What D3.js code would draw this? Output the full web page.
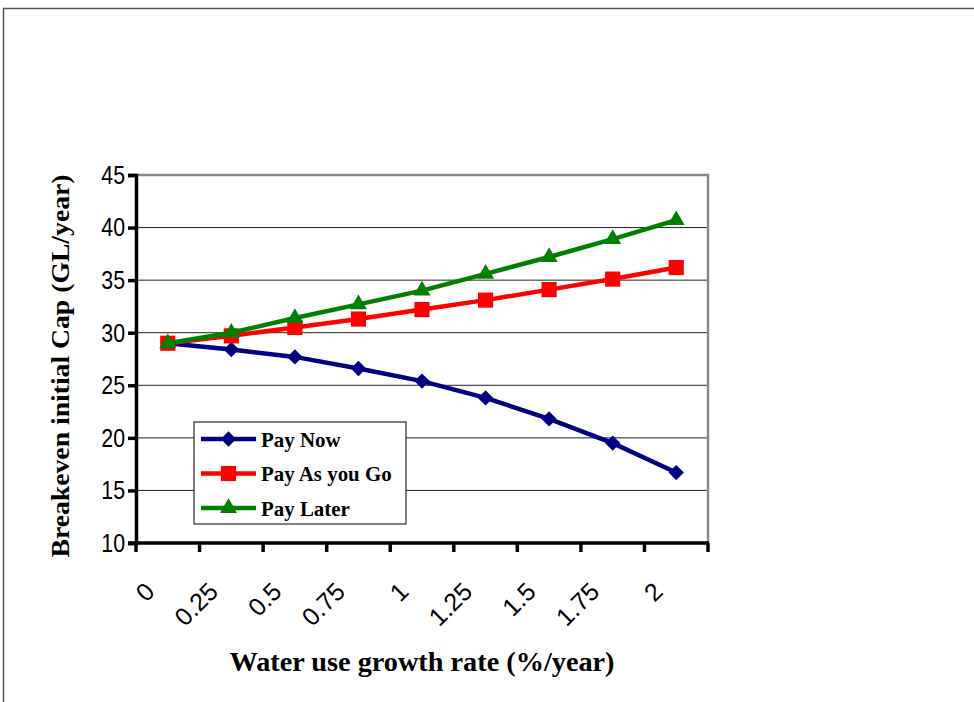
<!DOCTYPE html>
<html>
<head>
<meta charset="utf-8">
<script src="https://cdn.jsdelivr.net/npm/d3@7"></script>
<style>
  body { margin: 0; background: white; }
</style>
</head>
<body>
<div id="chart"></div>
<script>

let rates = ["0", "0.25", "0.5", "0.75", "1", "1.25", "1.5", "1.75", "2"];
let payNow = [29.0, 28.4, 27.7, 26.6, 25.4, 23.8, 21.8, 19.5, 16.7];
let payAsYouGo = [29.0, 29.7, 30.5, 31.3, 32.2, 33.1, 34.1, 35.1, 36.2];
let payLater = [29.0, 30.0, 31.4, 32.7, 34.0, 35.6, 37.2, 38.9, 40.7];
let yTicks = [10, 15, 20, 25, 30, 35, 40, 45];

let series = [
  {name: "Pay Now", values: payNow, color: "#000080", marker: d3.symbolDiamond2, size: 150},
  {name: "Pay As you Go", values: payAsYouGo, color: "#ff0000", marker: d3.symbolSquare, size: 230},
  {name: "Pay Later", values: payLater, color: "#008000", marker: d3.symbolTriangle, size: 125}
];

let svg = d3.select("#chart")
              .append("svg")
                  .attr("width", 974)
                  .attr("height", 702)
;

// outer frame
svg.append("path")
    .attr("d", "M3.5,702 V8.5 H974")
    .attr("fill", "none")
    .attr("stroke", "#555")
    .attr("stroke-width", 1.5)
;

let plotLeft = 136, plotRight = 708, plotTop = 175, plotBottom = 543;

let x = d3.scaleBand()
            .domain(rates)
            .range([plotLeft, plotRight])
            .padding(0)
;

let y = d3.scaleLinear()
            .domain([10, 45])
            .range([plotBottom, plotTop])
;

// squeeze a label sideways, the original looks narrow and tall
function squeeze(sel, k){
  sel.each(function(){
    let w = this.getComputedTextLength();
    d3.select(this)
        .attr("textLength", w * k)
        .attr("lengthAdjust", "spacingAndGlyphs");
  });
}

// gridlines
svg.append("g")
    .selectAll("line")
    .data(yTicks.filter(function(d){ return d > 10 && d < 45; }))
    .join("line")
        .attr("x1", plotLeft)
        .attr("x2", plotRight)
        .attr("y1", function(d){ return y(d); })
        .attr("y2", function(d){ return y(d); })
        .attr("stroke", "#222")
        .attr("stroke-width", 1)
;

// plot border top/right (grey)
svg.append("path")
    .attr("d", "M" + plotLeft + "," + y(45) + " H" + plotRight + " V" + plotBottom)
    .attr("fill", "none")
    .attr("stroke", "#888")
    .attr("stroke-width", 2.5)
;

// y axis
let yAxis = svg.append("g")
    .attr("transform", "translate(" + plotLeft + ",0)")
    .call(d3.axisLeft(y).tickValues(yTicks).tickSize(8).tickPadding(3))
;
yAxis.select(".domain").attr("stroke", "black").attr("stroke-width", 3.5);
yAxis.selectAll(".tick line").attr("stroke", "black").attr("stroke-width", 3.5);
yAxis.selectAll("text")
    .attr("font-family", "Liberation Sans, Arial, sans-serif")
    .attr("font-size", 26)
    .attr("fill", "black")
    .call(squeeze, 0.82)
;

// x axis with ticks at band edges
let xAxis = svg.append("g")
    .attr("transform", "translate(0," + plotBottom + ")")
;
xAxis.append("line")
    .attr("x1", plotLeft - 8)
    .attr("x2", plotRight + 1)
    .attr("stroke", "black")
    .attr("stroke-width", 3.5)
;
let edges = rates.map(function(d){ return x(d); }).concat([plotRight]);
xAxis.selectAll(".tk")
    .data(edges)
    .join("line")
        .attr("class", "tk")
        .attr("x1", function(d){ return d; })
        .attr("x2", function(d){ return d; })
        .attr("y1", 0)
        .attr("y2", 9)
        .attr("stroke", "black")
        .attr("stroke-width", 3.5)
;
xAxis.selectAll(".lbl")
    .data(rates)
    .join("text")
        .attr("class", "lbl")
        .attr("transform", function(d){
          return "translate(" + (x(d) + x.bandwidth() / 2 - 18) + ",44) rotate(-45)";
        })
        .attr("text-anchor", "end")
        .attr("dy", "0.35em")
        .attr("font-family", "Liberation Sans, Arial, sans-serif")
        .attr("font-size", 25)
        .text(function(d){ return d; })
;

// lines and markers
let line = d3.line()
              .x(function(d, i){ return x(rates[i]) + x.bandwidth() / 2; })
              .y(function(d){ return y(d); })
;

series.forEach(function(s){
  svg.append("path")
      .attr("d", line(s.values))
      .attr("fill", "none")
      .attr("stroke", s.color)
      .attr("stroke-width", 4.5)
  ;
  svg.append("g")
      .selectAll("path")
      .data(s.values)
      .join("path")
          .attr("transform", function(d, i){
            return "translate(" + (x(rates[i]) + x.bandwidth() / 2) + "," + y(d) + ")";
          })
          .attr("d", d3.symbol().type(s.marker).size(s.size))
          .attr("fill", s.color)
  ;
});

// legend
let legend = svg.append("g").attr("transform", "translate(194,422)");
legend.append("rect")
    .attr("width", 212)
    .attr("height", 102)
    .attr("fill", "white")
    .attr("stroke", "black")
    .attr("stroke-width", 1)
;
series.forEach(function(s, i){
  let ly = 17 + i * 34.5;
  legend.append("line")
      .attr("x1", 7)
      .attr("x2", 62)
      .attr("y1", ly)
      .attr("y2", ly)
      .attr("stroke", s.color)
      .attr("stroke-width", 4.5)
  ;
  legend.append("path")
      .attr("transform", "translate(34.5," + ly + ")")
      .attr("d", d3.symbol().type(s.marker).size(s.size))
      .attr("fill", s.color)
  ;
  legend.append("text")
      .attr("x", 67)
      .attr("y", ly)
      .attr("dy", "0.35em")
      .attr("font-family", "Liberation Serif, Times New Roman, serif")
      .attr("font-weight", "bold")
      .attr("font-size", 22)
      .text(s.name)
      .call(squeeze, 0.95)
  ;
});

// axis titles
svg.append("text")
    .attr("x", 422)
    .attr("y", 671)
    .attr("text-anchor", "middle")
    .attr("font-family", "Liberation Serif, Times New Roman, serif")
    .attr("font-weight", "bold")
    .attr("font-size", 27)
    .attr("textLength", 385)
    .attr("lengthAdjust", "spacingAndGlyphs")
    .text("Water use growth rate (%/year)")
;

svg.append("text")
    .attr("transform", "translate(69,366) rotate(-90)")
    .attr("text-anchor", "middle")
    .attr("font-family", "Liberation Serif, Times New Roman, serif")
    .attr("font-weight", "bold")
    .attr("font-size", 26)
    .attr("textLength", 383)
    .attr("lengthAdjust", "spacingAndGlyphs")
    .text("Breakeven initial Cap (GL/year)")
;

</script>
</body>
</html>
